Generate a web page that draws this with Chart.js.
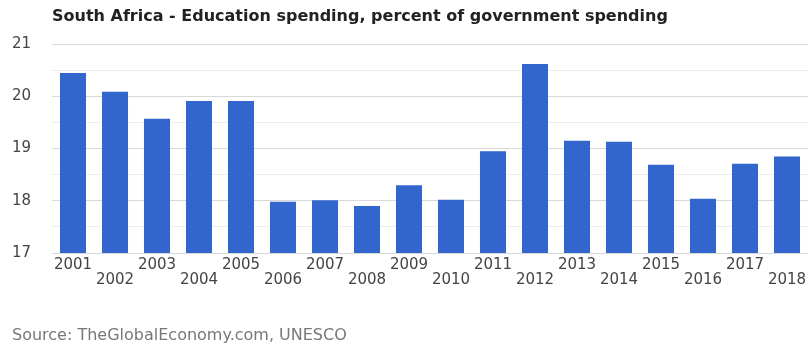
<!DOCTYPE html>
<html>
<head>
<meta charset="utf-8">
<script src="https://cdn.jsdelivr.net/npm/chart.js@4/dist/chart.umd.min.js"></script>
<style>
  html, body { margin: 0; padding: 0; background: #fff; }
  #wrap { width: 808px; height: 344px; }
</style>
</head>
<body>
<div id="wrap"><canvas id="myChart"></canvas></div>
<script>
// data
const years = ['2001','2002','2003','2004','2005','2006','2007','2008','2009',
               '2010','2011','2012','2013','2014','2015','2016','2017','2018'];
const spending = [20.45, 20.09, 19.57, 19.91, 19.91, 17.98, 18.01, 17.90, 18.30,
                  18.02, 18.95, 20.62, 19.15, 19.13, 18.69, 18.04, 18.71, 18.85];
const yMin = 17;
const yMax = 21;

const titleText = 'South Africa - Education spending, percent of government spending';
const sourceText = 'Source: TheGlobalEconomy.com, UNESCO';

Chart.defaults.font.family = '"DejaVu Sans", Verdana, sans-serif';
Chart.defaults.animation = false;

var ctx = document.getElementById('myChart');
var myChart = new Chart(ctx, {
  type: 'bar',
  data: {
    labels: years,
    datasets: [{
      label: 'Education spending',
      data: spending,
      backgroundColor: '#3366cc',
      borderWidth: 0,
      barPercentage: 0.62,
      categoryPercentage: 1
    }]
  },
  options: {
    responsive: true,
    maintainAspectRatio: false,
    layout: { padding: { left: 12, right: 0, top: 0, bottom: 0 } },
    plugins: {
      legend: { display: false },
      tooltip: { enabled: false },
      title: {
        display: true,
        text: titleText,
        align: 'start',
        fullSize: false,
        color: '#222',
        font: { size: 16, weight: 'bold' },
        padding: { top: 7, bottom: 18 }
      },
      subtitle: {
        display: true,
        text: sourceText,
        position: 'bottom',
        align: 'start',
        color: '#777',
        font: { size: 16, lineHeight: 1 },
        padding: { top: 35, bottom: 0 }
      }
    },
    scales: {
      x: {
        offset: true,
        grid: { display: false, drawTicks: false },
        border: { display: false },
        afterFit: function (scale) {
          scale.paddingLeft = 0;
          scale.paddingRight = 0;
        },
        ticks: {
          autoSkip: false,
          maxRotation: 0,
          padding: 5,
          color: '#444',
          font: { size: 15, lineHeight: 1 },
          callback: function (value, index) {
            // alternate the year labels on two rows
            return index % 2 === 0 ? [years[index], ''] : ['', years[index]];
          }
        }
      },
      y: {
        min: yMin,
        max: yMax,
        afterFit: function (scale) {
          scale.width = 40;
        },
        grid: {
          drawTicks: false,
          color: function (c) {
            return Number.isInteger(c.tick.value) ? '#d8d8d8' : '#eeeeee';
          }
        },
        border: { display: false },
        ticks: {
          stepSize: 0.5,
          padding: 21,
          color: '#444',
          font: { size: 15 },
          callback: function (value) {
            return Number.isInteger(value) ? value : '';
          }
        }
      }
    }
  }
});
</script>
</body>
</html>
